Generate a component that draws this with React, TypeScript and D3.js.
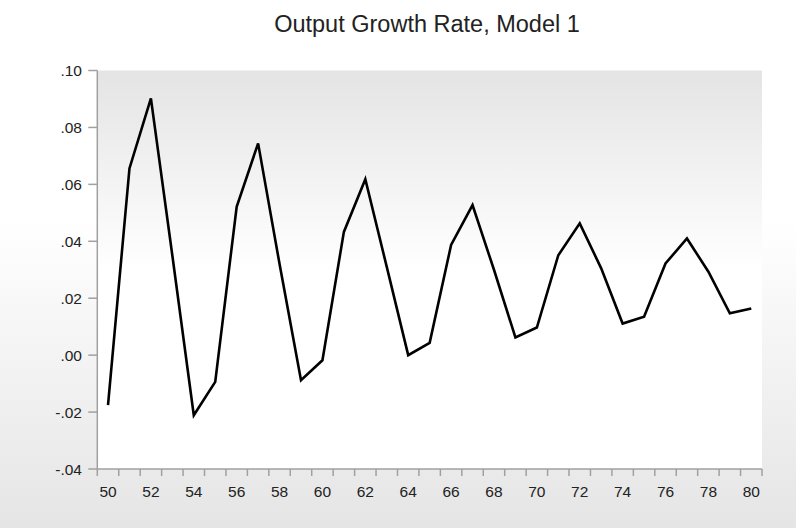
import React from "react";
import * as d3 from "d3";

const years = [50,51,52,53,54,55,56,57,58,59,60,61,62,63,64,65,66,67,68,69,70,71,72,73,74,75,76,77,78,79,80];
const growth = [-0.0176,0.0656,0.0902,0.035,-0.0211,-0.0094,0.0521,0.0744,0.032,-0.0088,-0.0018,0.0433,0.0618,0.031,0.0,0.0043,0.0387,0.0527,0.030,0.0062,0.0097,0.0351,0.0463,0.0305,0.0111,0.0135,0.0322,0.0410,0.0293,0.0147,0.0164];
const yTicks = [-0.04,-0.02,0.0,0.02,0.04,0.06,0.08,0.10];
const xLabels = [50,52,54,56,58,60,62,64,66,68,70,72,74,76,78,80];
const title = "Output Growth Rate, Model 1";

const W = 796, H = 528;
const L = 97.3, R = 762, T = 70.5, B = 469;

export default function App() {
  const x = d3.scaleLinear().domain([49.5, 80.5]).range([L, R]);
  const y = d3.scaleLinear().domain([-0.04, 0.10]).range([B, T]);
  const line = d3.line<number>().x((_, i) => x(years[i])).y((d) => y(d));
  const fmt = (v: number) => d3.format(".2f")(v).replace("\u2212", "-").replace("0.", ".");
  const boundaries = d3.range(49.5, 81, 1);
  const font = "Arial, 'Liberation Sans', sans-serif";
  return (
    <svg width={W} height={H} style={{ position: "absolute", left: 0, top: 0, display: "block" }} fontFamily={font}>
      <defs>
        <linearGradient id="outer" x1="0" y1="0" x2="0" y2="1">
          <stop offset="0" stopColor="#ffffff" />
          <stop offset="0.42" stopColor="#ffffff" />
          <stop offset="1" stopColor="#e5e5e5" />
        </linearGradient>
        <linearGradient id="plot" x1="0" y1="0" x2="0" y2="1">
          <stop offset="0" stopColor="#e4e4e4" />
          <stop offset="0.5" stopColor="#ffffff" />
          <stop offset="1" stopColor="#ffffff" />
        </linearGradient>
      </defs>
      <rect x={0} y={0} width={W} height={H} fill="url(#outer)" />
      <rect x={L} y={T} width={R - L} height={B - T} fill="url(#plot)" />
      <text x={427} y={32} textAnchor="middle" fontSize={23.5} fill="#222">{title}</text>
      <line x1={L} x2={L} y1={T} y2={B} stroke="#a0a0a0" strokeWidth={1.5} />
      {yTicks.map((t) => (
        <g key={t}>
          <line x1={L - 9} x2={L} y1={y(t)} y2={y(t)} stroke="#a0a0a0" strokeWidth={1.5} />
          <text x={82} y={y(t) + 5.5} textAnchor="end" fontSize={15.5} fill="#222">{fmt(t)}</text>
        </g>
      ))}
      <line x1={L} x2={R} y1={B} y2={B} stroke="#a0a0a0" strokeWidth={1.5} />
      {boundaries.map((b) => (
        <line key={b} x1={x(b)} x2={x(b)} y1={B} y2={B + 7} stroke="#a0a0a0" strokeWidth={1.5} />
      ))}
      {xLabels.map((v) => (
        <text key={v} x={x(v)} y={497} textAnchor="middle" fontSize={15.5} fill="#222">{v}</text>
      ))}
      <path d={line(growth) || ""} fill="none" stroke="#000" strokeWidth={2.6} strokeLinejoin="miter" />
    </svg>
  );
}
